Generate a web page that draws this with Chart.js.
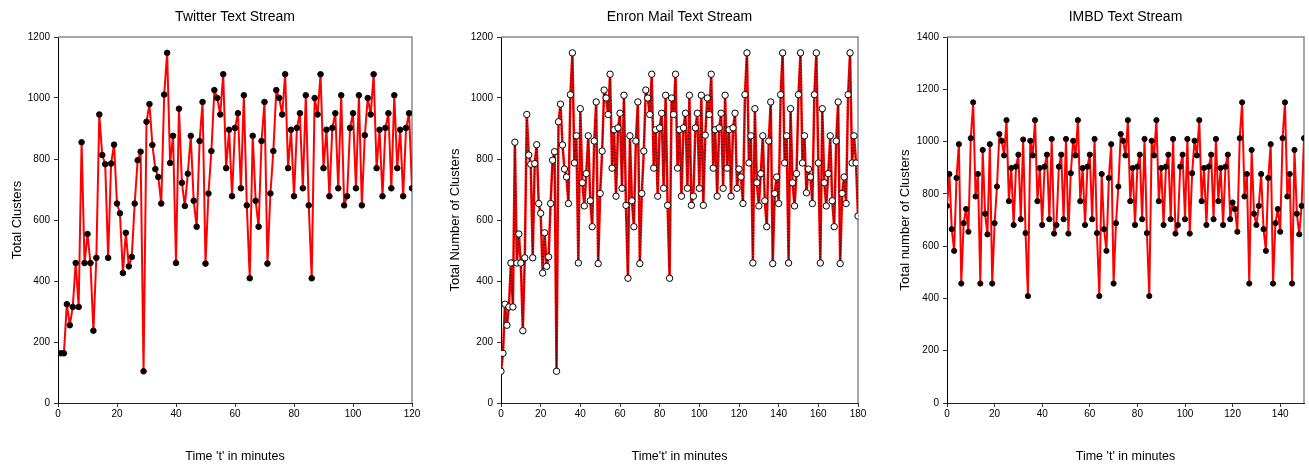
<!DOCTYPE html>
<html>
<head>
<meta charset="utf-8">
<script src="https://cdn.jsdelivr.net/npm/chart.js@4.4.1/dist/chart.umd.min.js"></script>
<style>
html, body { margin: 0; padding: 0; background: #fff; overflow: hidden; }
.panel { position: absolute; top: 0; height: 469px; }
</style>
</head>
<body>
<div class="panel" style="left:0;width:436px"><canvas id="twitterChart"></canvas></div>
<div class="panel" style="left:436px;width:444px"><canvas id="enronChart"></canvas></div>
<div class="panel" style="left:880px;width:429px"><canvas id="imbdChart"></canvas></div>
<script>
// Twitter: one value per minute, minutes 1..120
var twitterStart = 1;
var twitterClusters = [
  163, 163, 324, 255, 315, 459, 315, 855, 459, 554,
  459, 237, 476, 946, 813, 783, 476, 785, 847, 654,
  622, 426, 558, 448, 479, 654, 796, 824, 104, 922,
  980, 846, 767, 741, 654, 1011, 1148, 787, 876, 459,
  965, 722, 646, 752, 876, 663, 578, 859, 987, 457,
  687, 826, 1026, 1000, 946, 1078, 770, 896, 678, 902,
  950, 704, 1009, 648, 409, 876, 663, 578, 859, 987,
  457, 687, 826, 1026, 1000, 946, 1078, 770, 896, 678,
  902, 950, 704, 1009, 648, 409, 1000, 946, 1078, 770,
  896, 678, 902, 950, 704, 1009, 648, 678, 902, 950,
  704, 1009, 648, 878, 1000, 946, 1078, 770, 896, 678,
  902, 950, 704, 1009, 770, 896, 678, 902, 950, 704
];

// Enron: minutes 0..180
var enronStart = 0;
var enronClusters = [
  104, 163, 324, 255, 315, 459, 315, 855, 459, 554,
  459, 237, 476, 946, 813, 783, 476, 785, 847, 654,
  622, 426, 558, 448, 479, 654, 796, 824, 104, 922,
  980, 846, 767, 741, 654, 1011, 1148, 787, 876, 459,
  965, 722, 646, 752, 876, 663, 578, 859, 987, 457,
  687, 826, 1026, 1000, 946, 1078, 770, 896, 678, 902,
  950, 704, 1009, 648, 409, 876, 663, 578, 859, 987,
  457, 687, 826, 1026, 1000, 946, 1078, 770, 896, 678,
  902, 950, 704, 1009, 648, 409, 1000, 946, 1078, 770,
  896, 678, 902, 950, 704, 1009, 648, 678, 902, 950,
  704, 1009, 648, 878, 1000, 946, 1078, 770, 896, 678,
  902, 950, 704, 1009, 770, 896, 678, 902, 950, 704,
  767, 741, 654, 1011, 1148, 787, 876, 459, 965, 722,
  646, 752, 876, 663, 578, 859, 987, 457, 687, 741,
  654, 1011, 1148, 787, 876, 459, 965, 722, 646, 752,
  1011, 1148, 787, 876, 689, 767, 741, 654, 1011, 1148,
  787, 459, 965, 722, 646, 752, 876, 663, 578, 859,
  987, 457, 687, 741, 654, 1011, 1148, 787, 876, 787,
  613
];

// IMBD: minutes 0..150
var imbdStart = 0;
var imbdClusters = [
  754, 876, 665, 582, 861, 990, 457, 688, 742, 655,
  1013, 1150, 790, 876, 457, 968, 724, 645, 990, 457,
  688, 828, 1029, 1003, 947, 1082, 772, 899, 681, 904,
  950, 703, 1008, 650, 409, 1003, 947, 1082, 772, 899,
  681, 904, 950, 703, 1010, 648, 681, 904, 950, 703,
  1010, 648, 879, 1003, 947, 1082, 772, 899, 681, 904,
  950, 703, 1010, 650, 409, 876, 665, 582, 861, 990,
  457, 688, 828, 1029, 1003, 947, 1082, 772, 899, 681,
  904, 950, 703, 1010, 650, 409, 1003, 947, 1082, 772,
  899, 681, 904, 950, 703, 1010, 648, 681, 904, 950,
  703, 1010, 648, 879, 1003, 947, 1082, 772, 899, 681,
  904, 950, 703, 1010, 772, 899, 681, 904, 950, 703,
  767, 742, 655, 1013, 1150, 790, 876, 457, 968, 724,
  681, 754, 876, 665, 582, 861, 990, 457, 688, 742,
  655, 1013, 1150, 790, 876, 457, 968, 724, 645, 754,
  1013
];

// axis tick labels
var twitterXTicks = [0, 20, 40, 60, 80, 100, 120];
var enronXTicks = [0, 20, 40, 60, 80, 100, 120, 140, 160, 180];
var imbdXTicks = [0, 20, 40, 60, 80, 100, 120, 140];
var yTicks1200 = [0, 200, 400, 600, 800, 1000, 1200];
var yTicks1400 = [0, 200, 400, 600, 800, 1000, 1200, 1400];

var titles = ['Twitter Text Stream', 'Enron Mail Text Stream', 'IMBD Text Stream'];
var yTitles = ['Total Clusters', 'Total Number of Clusters', 'Total number of Clusters'];
var xTitles = ["Time 't' in minutes", "Time't' in minutes", "Time 't' in minutes"];
var xMax = [120, 180, 150];

Chart.defaults.font.family = "'Liberation Sans', Arial, sans-serif";
Chart.defaults.color = '#000';
Chart.defaults.animation = false;

function toPoints(values, start) {
  return values.map(function(v, i) { return {x: start + i, y: v}; });
}

function fixedTicks(list) {
  return function(s) {
    s.ticks = list.map(function(v) { return {value: v}; });
  };
}

// grey box on top and right of the plot
var framePlugin = {
  id: 'frame',
  beforeDatasetsDraw: function(chart) {
    var a = chart.chartArea, ctx = chart.ctx;
    ctx.save();
    ctx.strokeStyle = '#8a8a8a';
    ctx.lineWidth = 1.5;
    ctx.beginPath();
    ctx.moveTo(a.left, a.top);
    ctx.lineTo(a.right, a.top);
    ctx.lineTo(a.right, a.bottom);
    ctx.stroke();
    ctx.restore();
  }
};

function makeChart(id, idx, datasets, xTicks, yTicks, yAxisWidth, padRight, yTitlePad) {
  return new Chart(document.getElementById(id), {
    type: 'line',
    data: { datasets: datasets },
    plugins: [framePlugin],
    options: {
      responsive: true,
      maintainAspectRatio: false,
      layout: { padding: { left: 0, right: padRight, top: 0, bottom: 0 } },
      plugins: {
        legend: { display: false },
        tooltip: { enabled: false },
        title: {
          display: true,
          text: titles[idx],
          fullSize: false,
          color: '#000',
          font: { size: 14, weight: 'normal' },
          padding: { top: 8.6, bottom: 11.6 }
        }
      },
      scales: {
        x: {
          type: 'linear',
          min: 0,
          max: xMax[idx],
          afterBuildTicks: fixedTicks(xTicks),
          afterFit: function(s) { s.height = 66; },
          ticks: {
            padding: 1, maxRotation: 0, autoSkip: false, font: { size: 10 },
            callback: function(v) { return String(v); }
          },
          grid: { drawOnChartArea: false, drawTicks: true, tickLength: 4, color: '#333' },
          border: { color: '#222', width: 1 },
          title: {
            display: true,
            text: xTitles[idx],
            font: { size: 12.5 },
            padding: { top: 0, bottom: 4.5 }
          }
        },
        y: {
          min: 0,
          max: yTicks[yTicks.length - 1],
          afterBuildTicks: fixedTicks(yTicks),
          afterFit: function(s) { s.width = yAxisWidth; },
          ticks: {
            padding: 4, font: { size: 10 },
            callback: function(v) { return String(v); }
          },
          grid: { drawOnChartArea: false, drawTicks: true, tickLength: 4, color: '#333' },
          border: { color: '#000', width: 1 },
          title: {
            display: true,
            text: yTitles[idx],
            font: { size: 13 },
            padding: { top: yTitlePad, bottom: 0 }
          }
        }
      }
    }
  });
}

function solidSeries(values, start, radius) {
  return [{
    data: toPoints(values, start),
    borderColor: '#ff0000',
    borderWidth: 2,
    borderJoinStyle: 'round',
    pointRadius: radius,
    pointBackgroundColor: '#000',
    pointBorderColor: '#200000',
    pointBorderWidth: 1,
    tension: 0
  }];
}

makeChart('twitterChart', 0, solidSeries(twitterClusters, twitterStart, 2.8),
  twitterXTicks, yTicks1200, 58, 24, 9.2);

makeChart('enronChart', 1, [
  {
    data: toPoints(enronClusters, enronStart),
    showLine: false,
    pointRadius: 3.2,
    pointBackgroundColor: '#fff',
    pointBorderColor: '#000',
    pointBorderWidth: 1,
    order: 0
  },
  {
    data: toPoints(enronClusters, enronStart),
    borderColor: '#000',
    borderWidth: 1,
    borderDash: [1, 2],
    borderJoinStyle: 'round',
    pointRadius: 0,
    order: 1
  },
  {
    data: toPoints(enronClusters, enronStart),
    borderColor: '#ff0000',
    borderWidth: 2.5,
    borderJoinStyle: 'round',
    pointRadius: 0,
    order: 2
  }
], enronXTicks, yTicks1200, 65, 22, 11.2);

makeChart('imbdChart', 2, solidSeries(imbdClusters, imbdStart, 2.6),
  imbdXTicks, yTicks1400, 67, 4, 17.2);
</script>
</body>
</html>
